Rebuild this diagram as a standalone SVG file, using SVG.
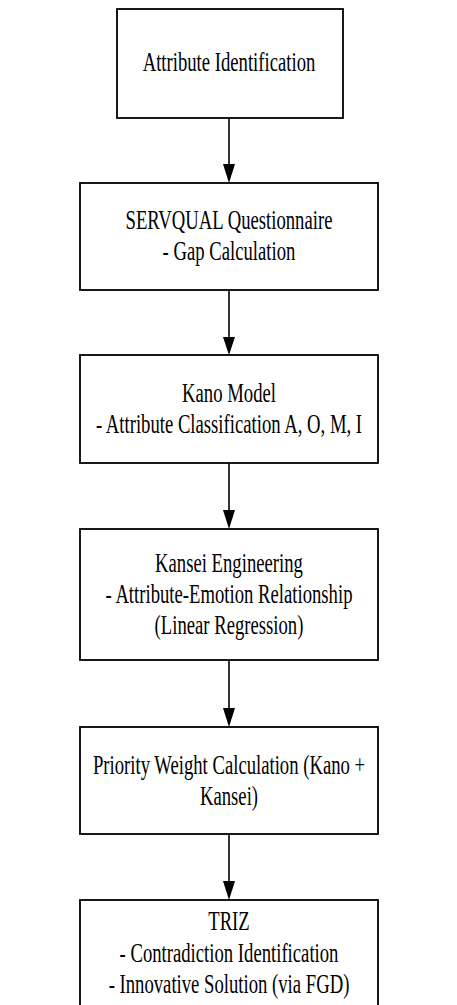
<svg xmlns="http://www.w3.org/2000/svg" width="457" height="1005" viewBox="0 0 457 1005">
<defs>
<style>
.box{fill:#fff;stroke:#000;stroke-width:1.8}
.t{font-family:"Liberation Serif","Times New Roman","DejaVu Serif",serif;font-size:26.7px;fill:#000;text-anchor:middle}
.c{stroke:#000;stroke-width:1.6;fill:none}
.h{fill:#000;stroke:none}
</style>
</defs>
<rect width="457" height="1005" fill="#fff"/>
<g id="connectors">
<line class="c" x1="229" y1="118" x2="229" y2="166"/>
<polygon class="h" points="223,164 235,164 229,183"/>
<line class="c" x1="229" y1="290" x2="229" y2="339"/>
<polygon class="h" points="223,337 235,337 229,355"/>
<line class="c" x1="229" y1="463" x2="229" y2="512"/>
<polygon class="h" points="223,510 235,510 229,529"/>
<line class="c" x1="229" y1="660" x2="229" y2="710"/>
<polygon class="h" points="223,708 235,708 229,727"/>
<line class="c" x1="229" y1="834" x2="229" y2="883"/>
<polygon class="h" points="223,881 235,881 229,900"/>
</g>
<g id="node1">
<rect class="box" x="117" y="9" width="226" height="109"/>
<g transform="translate(229,0) scale(0.7,1)">
<text class="t" font-family="Liberation Serif, serif" x="0" y="71.5">Attribute Identification</text>
</g>
</g>
<g id="node2">
<rect class="box" x="80" y="183" width="298" height="107"/>
<g transform="translate(229,0) scale(0.7,1)">
<text class="t" font-family="Liberation Serif, serif" x="0" y="229.5">SERVQUAL Questionnaire</text>
<text class="t" font-family="Liberation Serif, serif" x="0" y="260.5">- Gap Calculation</text>
</g>
</g>
<g id="node3">
<rect class="box" x="80" y="355" width="298" height="108"/>
<g transform="translate(229,0) scale(0.7,1)">
<text class="t" font-family="Liberation Serif, serif" x="0" y="402.5">Kano Model</text>
<text class="t" font-family="Liberation Serif, serif" x="0" y="433.5">- Attribute Classification A, O, M, I</text>
</g>
</g>
<g id="node4">
<rect class="box" x="80" y="529" width="298" height="131"/>
<g transform="translate(229,0) scale(0.7,1)">
<text class="t" font-family="Liberation Serif, serif" x="0" y="572.5">Kansei Engineering</text>
<text class="t" font-family="Liberation Serif, serif" x="0" y="603.5">- Attribute-Emotion Relationship</text>
<text class="t" font-family="Liberation Serif, serif" x="0" y="634.5">(Linear Regression)</text>
</g>
</g>
<g id="node5">
<rect class="box" x="80" y="727" width="298" height="107"/>
<g transform="translate(229,0) scale(0.7,1)">
<text class="t" font-family="Liberation Serif, serif" x="0" y="774">Priority Weight Calculation (Kano +</text>
<text class="t" font-family="Liberation Serif, serif" x="0" y="805">Kansei)</text>
</g>
</g>
<g id="node6">
<rect class="box" x="80" y="900" width="298" height="110"/>
<g transform="translate(229,0) scale(0.7,1)">
<text class="t" font-family="Liberation Serif, serif" x="0" y="930.5">TRIZ</text>
<text class="t" font-family="Liberation Serif, serif" x="0" y="962">- Contradiction Identification</text>
<text class="t" font-family="Liberation Serif, serif" x="0" y="993.5">- Innovative Solution (via FGD)</text>
</g>
</g>
</svg>
